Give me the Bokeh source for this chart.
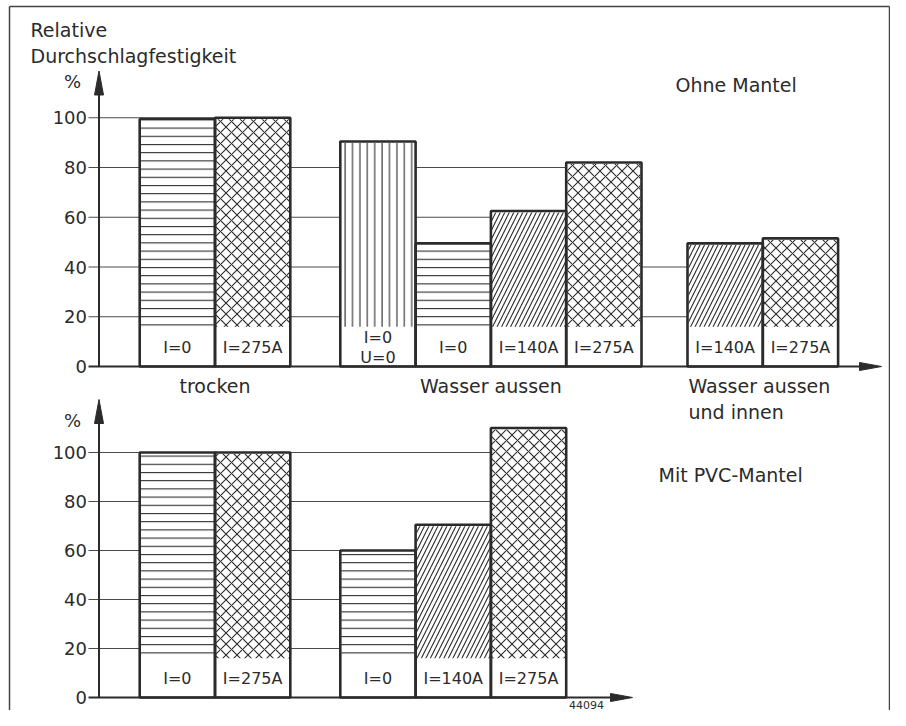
from bokeh.plotting import figure
from bokeh.models import Range1d
from bokeh.core.properties import value
from bokeh.embed import file_html
from bokeh.resources import INLINE

# ---------------- data ----------------
y_title = ["Relative", "Durchschlagfestigkeit"]
y_unit = "%"
y_ticks = [0, 20, 40, 60, 80, 100]

top_title = "Ohne Mantel"
top_groups = ["trocken", "Wasser aussen", "Wasser aussen\nund innen"]
top_labels = [["I=0", "I=275A"],
              ["I=0\nU=0", "I=0", "I=140A", "I=275A"],
              ["I=140A", "I=275A"]]
top_values = [[99.5, 100.0],
              [90.5, 49.5, 62.5, 82.0],
              [49.5, 51.5]]

bot_title = "Mit PVC-Mantel"
bot_labels = [["I=0", "I=275A"],
              ["I=0", "I=140A", "I=275A"]]
bot_values = [[100.0, 100.0],
              [60.0, 70.5, 110.0]]

fig_number = "44094"

# ---------------- styling / layout ----------------
INK = "#2b2b2b"
FONT = value("DejaVu Sans")
W, H = 890, 710
AXIS_X = 98.5
BAR_W = 75.3
LEAD = 40.7
GAPS = [50.0, 46.0]
HATCH_FLOOR = 16.0
LABEL_Y = 7.7
PATTERN = {"I=0": "horizontal_line", "I=275A": "diagonal_cross",
           "I=140A": "right_diagonal_line", "I=0\nU=0": "vertical_line"}
SCALE = {"horizontal_line": 8.2, "diagonal_cross": 11, "right_diagonal_line": 9,
         "vertical_line": 7.4}

panels = {
    "top": dict(y0=366.0, ppu=2.487, tip=70.5, xend=881.0, unit_y=81.0),
    "bot": dict(y0=697.0, ppu=2.45, tip=399.0, xend=632.0, unit_y=419.5),
}

p = figure(width=W, height=H, output_backend="svg", toolbar_location=None,
           x_range=Range1d(0, W), y_range=Range1d(H, 0),
           min_border=0, outline_line_color=None)
p.axis.visible = False
p.grid.visible = False
p.background_fill_color = "white"
p.border_fill_color = "white"

for name, cfg in panels.items():
    p.extra_y_ranges[name] = Range1d((cfg["y0"] - H) / cfg["ppu"],
                                     cfg["y0"] / cfg["ppu"])


def bar_layout(values):
    xs = []
    left = AXIS_X + LEAD
    for gi, grp in enumerate(values):
        if gi > 0:
            left += GAPS[gi - 1]
        gx = []
        for _ in grp:
            gx.append(left + BAR_W / 2)
            left += BAR_W
        xs.append(gx)
    return xs


def draw_panel(name, labels, values, groups=None):
    cfg = panels[name]
    xs = bar_layout(values)
    fx = [x for g in xs for x in g]
    fv = [v for g in values for v in g]
    fl = [l for g in labels for l in g]

    # grid lines: from the tick to the last bar reaching that level
    for lv in y_ticks[1:]:
        reach = [x + BAR_W / 2 for x, v in zip(fx, fv) if v >= lv - 0.6]
        xe = max(reach) if reach else AXIS_X + LEAD
        p.segment(x0=AXIS_X - 10.5, y0=lv, x1=xe, y1=lv, y_range_name=name,
                  line_color="#4a4a4a", line_width=1.1)

    # white bar bodies
    p.vbar(x=fx, width=BAR_W, bottom=0, top=fv, y_range_name=name,
           fill_color="white", line_color=None)
    # hatched part
    for x, v, l in zip(fx, fv, fl):
        pat = PATTERN[l]
        p.vbar(x=[x], width=BAR_W - 2, bottom=HATCH_FLOOR, top=v - 0.6,
               y_range_name=name, fill_color=None, line_color=None,
               hatch_pattern=pat, hatch_color=INK, hatch_weight=1.1,
               hatch_scale=SCALE[pat])
    # outlines
    p.vbar(x=fx, width=BAR_W, bottom=0, top=fv, y_range_name=name,
           fill_color=None, line_color=INK, line_width=2.6)
    # labels inside bars
    p.text(x=fx, y=[LABEL_Y] * len(fx), text=fl, y_range_name=name,
           text_font=FONT, text_font_size="16px", text_color=INK,
           text_align="center", text_baseline="middle", text_line_height=1.08)

    # y tick labels
    p.text(x=[AXIS_X - 12] * len(y_ticks), y=y_ticks,
           text=[str(t) for t in y_ticks], y_range_name=name,
           text_font=FONT, text_font_size="18px", text_color=INK,
           text_align="right", text_baseline="middle")

    # axes (canvas pixel coordinates)
    y0 = cfg["y0"]
    p.segment(x0=AXIS_X, y0=y0, x1=AXIS_X, y1=cfg["tip"] + 14,
              line_color=INK, line_width=2)
    p.patch(x=[AXIS_X, AXIS_X - 4.5, AXIS_X + 4.5],
            y=[cfg["tip"], cfg["tip"] + 24, cfg["tip"] + 24], color=INK)
    p.segment(x0=AXIS_X - 10.5, y0=y0, x1=cfg["xend"] - 14, y1=y0,
              line_color=INK, line_width=2)
    p.patch(x=[cfg["xend"], cfg["xend"] - 22, cfg["xend"] - 22],
            y=[y0, y0 - 4, y0 + 4], color=INK)
    p.text(x=[72], y=[cfg["unit_y"]], text=[y_unit], text_font=FONT,
           text_font_size="18px", text_color=INK, text_align="center",
           text_baseline="middle")

    if groups:
        for g, gx in zip(groups, xs):
            if "\n" in g:
                p.text(x=[gx[0] - BAR_W / 2 + 1], y=[y0 + 8], text=[g],
                       text_font=FONT, text_font_size="19px", text_color=INK,
                       text_align="left", text_baseline="top",
                       text_line_height=1.2)
            else:
                p.text(x=[(gx[0] + gx[-1]) / 2], y=[y0 + 8], text=[g],
                       text_font=FONT, text_font_size="19px", text_color=INK,
                       text_align="center", text_baseline="top")


draw_panel("top", top_labels, top_values, top_groups)
draw_panel("bot", bot_labels, bot_values)

# titles
p.text(x=[30, 30], y=[29, 55], text=y_title, text_font=FONT,
       text_font_size="19px", text_color=INK, text_align="left",
       text_baseline="middle")
p.text(x=[675], y=[84], text=[top_title], text_font=FONT,
       text_font_size="19px", text_color=INK, text_align="left",
       text_baseline="middle")
p.text(x=[658], y=[474], text=[bot_title], text_font=FONT,
       text_font_size="19px", text_color=INK, text_align="left",
       text_baseline="middle")
p.text(x=[586], y=[708], text=[fig_number], text_font=FONT,
       text_font_size="11px", text_color=INK, text_align="center",
       text_baseline="bottom")

# frame
p.segment(x0=[9, 9, W - 1], y0=[6, 6, 6],
          x1=[9, W - 1, W - 1], y1=[H, 6, H],
          line_color="#444444", line_width=1.5)

open("out.html", "w").write(file_html(p, INLINE))
